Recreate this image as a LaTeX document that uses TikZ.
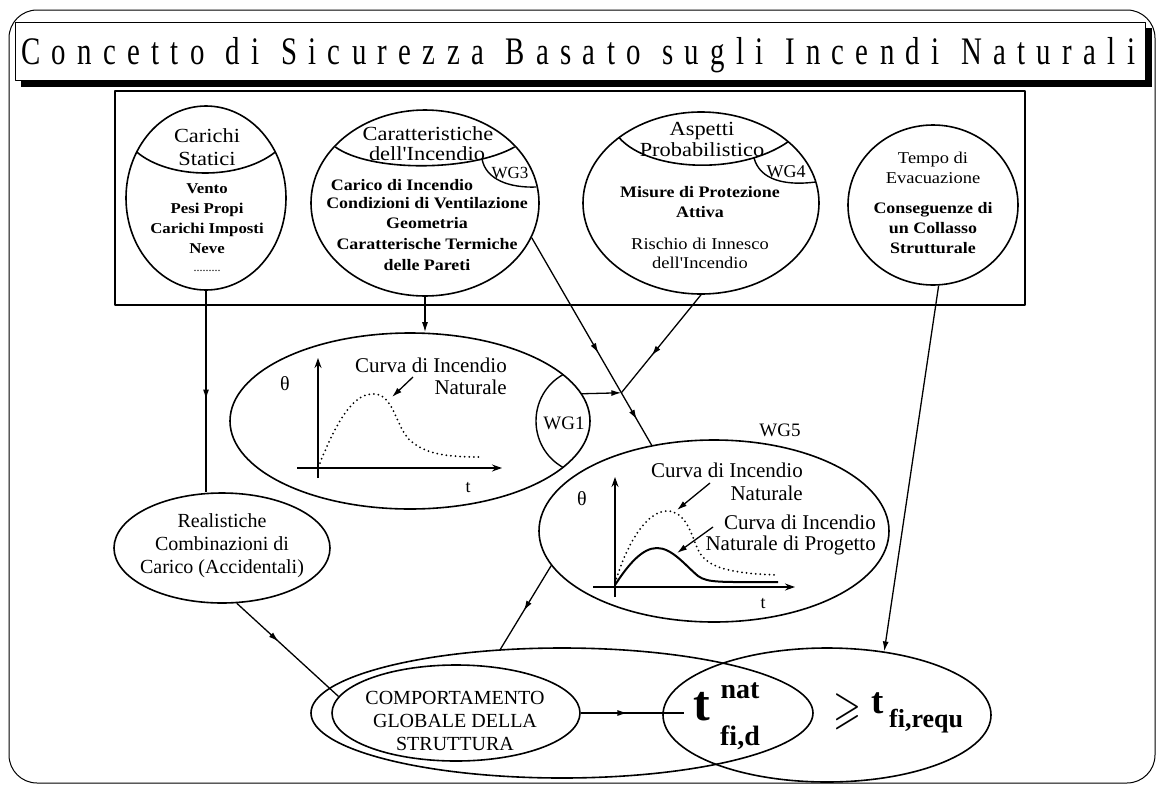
\documentclass[tikz,border=0pt]{standalone}
\usepackage{fontspec}
\usepackage{amssymb}
\usepackage{graphicx}
\setmainfont{Liberation Serif}
\newfontfamily\wideserif[FakeStretch=1.12]{Liberation Serif}
\newfontfamily\titleserif[FakeStretch=0.74]{Liberation Serif}
\usetikzlibrary{shapes.geometric,arrows.meta,decorations.markings,calc}

% letter and word gaps of the spaced-out heading
\newcommand\tlg{\hskip 0pt plus 1fil\relax}
\newcommand\twg{\hskip 10pt plus 1fil\relax}

\tikzset{
  ell/.style={draw, ellipse, inner sep=0pt, line width=1.6pt},
  sep/.style={line width=1.6pt},
  conn/.style={line width=1.3pt},
  marrow/.style={postaction={decorate}, decoration={markings, mark=at position #1 with {\arrow{>}}}},
  axis/.style={line width=1.5pt, -{Stealth[length=10pt,width=7pt]}},
  dotc/.style={line width=2pt, line cap=round, dash pattern=on 0pt off 4.6pt},
  solc/.style={line width=2pt},
  hd/.style={anchor=base, inner sep=0pt, font=\wideserif\fontsize{20}{22}\selectfont},
  bd/.style={anchor=base, inner sep=0pt, font=\wideserif\bfseries\fontsize{16}{18}\selectfont},
  bds/.style={anchor=base, inner sep=0pt, font=\wideserif\bfseries\fontsize{15}{17}\selectfont},
  rg/.style={anchor=base, inner sep=0pt, font=\wideserif\fontsize{16.5}{18}\selectfont},
  lbl/.style={anchor=base, inner sep=0pt, font=\fontsize{20}{22}\selectfont},
  glbl/.style={anchor=base east, inner sep=0pt, font=\fontsize{21}{23}\selectfont},
  wg/.style={anchor=base, inner sep=0pt, font=\fontsize{18}{20}\selectfont},
}

\begin{document}
\begin{tikzpicture}[x=1pt, y=-1pt, >={Latex[length=10pt,width=6pt]}, line join=round]
\useasboundingbox (0,0) rectangle (1160,785);

% page frame
\draw[line width=1pt, rounded corners=28pt] (9,10) rectangle (1155,783);

% heading with its shadow
\fill[black] (21,28) rectangle (1152,87);
\draw[line width=1pt, fill=white] (15,22) rectangle (1145,80);
\node[anchor=base, inner sep=0pt, font=\titleserif\fontsize{39}{42}\selectfont] (title) at (578,64)
  {\hbox to 1114pt{C\tlg o\tlg n\tlg c\tlg e\tlg t\tlg t\tlg o\twg d\tlg i\twg S\tlg i\tlg c\tlg u\tlg r\tlg e\tlg z\tlg z\tlg a\twg B\tlg a\tlg s\tlg a\tlg t\tlg o\twg s\tlg u\tlg g\tlg l\tlg i\twg I\tlg n\tlg c\tlg e\tlg n\tlg d\tlg i\twg N\tlg a\tlg t\tlg u\tlg r\tlg a\tlg l\tlg i}};

% box of the input parameters
\draw[line width=1.3pt] (115,91) rectangle (1025,305);

% ellipses
\node[ell, minimum width=160pt, minimum height=184pt] (cs) at (206,198) {};
\node[ell, minimum width=228pt, minimum height=186pt] (ci) at (425,203) {};
\node[ell, minimum width=236pt, minimum height=182pt] (ap) at (701,203) {};
\node[ell, minimum width=170pt, minimum height=160pt] (te) at (933,205) {};
\node[ell, minimum width=360pt, minimum height=176pt] (cn) at (410,421) {};
\node[ell, minimum width=350pt, minimum height=182pt] (pr) at (714,531) {};
\node[ell, minimum width=216pt, minimum height=110pt] (re) at (222,548) {};
\node[ell, minimum width=502pt, minimum height=130pt] (og) at (562,713) {};
\node[ell, minimum width=248pt, minimum height=96pt] (cg) at (456,713) {};
\node[ell, minimum width=328pt, minimum height=134pt] (tr) at (827,715) {};

% header separators and working-group corners
\draw[sep] (136.7,152) .. controls (170,180) and (240,180) .. (275.3,152);
\draw[sep] (335.4,147) .. controls (370,172) and (470,172) .. (514.6,147);
\draw[line width=1.4pt] (482,159) .. controls (486,180) and (510,188) .. (536.3,187);
\draw[sep] (619.4,138) .. controls (650,172) and (740,175) .. (787.8,142);
\draw[line width=1.4pt] (754,158) .. controls (760,180) and (785,186) .. (815.8,182);
\draw[line width=1.4pt] (563,374.6) .. controls (527,395) and (527,447) .. (563,467.4);

% Carichi Statici
\node[hd] (cs-h1) at (207,142) {Carichi};
\node[hd] (cs-h2) at (207,165) {Statici};
\node[bds] (cs-b1) at (207,193) {Vento};
\node[bds] (cs-b2) at (207,213) {Pesi Propi};
\node[bds] (cs-b3) at (207,233) {Carichi Imposti};
\node[bds] (cs-b4) at (207,253) {Neve};
\node[anchor=base, inner sep=0pt, font=\fontsize{12}{12}\selectfont] (cs-b5) at (207,271) {.........};

% Caratteristiche dell'Incendio
\node[hd] (ci-h1) at (428,140) {Caratteristiche};
\node[hd] (ci-h2) at (427,160) {dell'Incendio};
\node[anchor=base, inner sep=0pt, font=\fontsize{17}{19}\selectfont] (wg3) at (510,178) {WG3};
\node[bd] (ci-b1) at (402,190) {Carico di Incendio};
\node[bd] (ci-b2) at (427,208) {Condizioni di Ventilazione};
\node[bd] (ci-b3) at (427,228) {Geometria};
\node[bd] (ci-b4) at (427,249) {Caratterische Termiche};
\node[bd] (ci-b5) at (427,270) {delle Pareti};

% Aspetti Probabilistico
\node[hd] (ap-h1) at (702,135) {Aspetti};
\node[hd] (ap-h2) at (702,156) {Probabilistico};
\node[wg] (wg4) at (786,177) {WG4};
\node[bd] (ap-b1) at (700,197) {Misure di Protezione};
\node[bd] (ap-b2) at (700,217) {Attiva};
\node[rg] (ap-b3) at (700,249) {Rischio di Innesco};
\node[rg] (ap-b4) at (700,268) {dell'Incendio};

% Tempo di Evacuazione
\node[rg] (te-b1) at (933,163) {Tempo di};
\node[rg] (te-b2) at (933,183) {Evacuazione};
\node[bd] (te-b3) at (933,213) {Conseguenze di};
\node[bd] (te-b4) at (933,233) {un Collasso};
\node[bd] (te-b5) at (933,253) {Strutturale};

% natural fire curve
\draw[axis] (318,478) -- (318,358);
\draw[axis] (297,468) -- (502,468);
\node[lbl] (cn-th) at (285,390) {θ};
\node[anchor=base, inner sep=0pt, font=\fontsize{18}{20}\selectfont] (cn-t) at (468,492) {t};
\draw[dotc] (320,463) .. controls (338,418) and (355,392) .. (375,394)
  .. controls (395,396) and (396,430) .. (412,442)
  .. controls (428,455) and (450,457) .. (481,457);
\node[glbl] (cn-l1) at (507,372) {Curva di Incendio};
\node[glbl] (cn-l2) at (507,394) {Naturale};
\coordinate (cn-ps) at (413,377);
\coordinate (cn-pe) at (392,397);
\draw[conn, ->] (cn-ps) -- (cn-pe);
\node[anchor=base, inner sep=0pt, font=\fontsize{19}{21}\selectfont] (wg1) at (564,429) {WG1};

% design fire curve
\node[anchor=base, inner sep=0pt, font=\fontsize{19}{21}\selectfont] (wg5) at (780,436) {WG5};
\draw[axis] (615,597) -- (615,477);
\draw[axis] (593,587) -- (795,587);
\node[lbl] (pr-th) at (582,505) {θ};
\node[anchor=base, inner sep=0pt, font=\fontsize{18}{20}\selectfont] (pr-t) at (763,608) {t};
\draw[dotc] (615,583) .. controls (628,540) and (648,511) .. (667,511)
  .. controls (684,511) and (690,530) .. (696,545)
  .. controls (703,563) and (715,573) .. (778,575);
\draw[solc] (615,585) .. controls (628,565) and (642,548) .. (657,548)
  .. controls (672,548) and (685,565) .. (698,576)
  .. controls (708,583) and (720,582) .. (778,582);
\node[glbl] (pr-l1) at (803,477) {Curva di Incendio};
\node[glbl] (pr-l2) at (803,500) {Naturale};
\node[glbl] (pr-l3) at (876,529) {Curva di Incendio};
\node[glbl] (pr-l4) at (876,550) {Naturale di Progetto};
\coordinate (pr-ps1) at (710,483);
\coordinate (pr-pe1) at (677,510);
\coordinate (pr-ps2) at (713,527);
\coordinate (pr-pe2) at (677,553);
\draw[conn, ->] (pr-ps1) -- (pr-pe1);
\draw[conn, ->] (pr-ps2) -- (pr-pe2);

% load combinations
\node[lbl] (re-1) at (222,527) {Realistiche};
\node[lbl] (re-2) at (222,550) {Combinazioni di};
\node[lbl] (re-3) at (222,573) {Carico (Accidentali)};

% global behaviour and verification
\node[lbl] (cg-1) at (455,704) {COMPORTAMENTO};
\node[lbl] (cg-2) at (455,727) {GLOBALE DELLA};
\node[lbl] (cg-3) at (455,750) {STRUTTURA};
\node[anchor=base, inner xsep=9pt, inner ysep=0pt, font=\bfseries\fontsize{50}{50}\selectfont] (tnat) at (702,720) {t};
\node[anchor=base, inner sep=0pt, font=\bfseries\fontsize{28}{30}\selectfont] (tsup) at (740,698) {nat};
\node[anchor=base, inner sep=0pt, font=\bfseries\fontsize{28}{30}\selectfont] (tsub) at (740,745) {fi,d};
\node[inner sep=0pt] (geq) at (847,712) {\scalebox{1}[1.3]{\fontsize{36}{36}\selectfont$\geqslant$}};
\node[anchor=base, inner sep=0pt, font=\bfseries\fontsize{37}{37}\selectfont] (treq) at (878,713) {t};
\node[anchor=base west, inner sep=0pt, font=\bfseries\fontsize{26}{26}\selectfont] (treqs) at (889,727) {fi,requ};

% connectors
\coordinate (jn) at ($(ci.-18)!0.7475!(pr.126)$);
\draw[conn, marrow=0.54] (cs.south) -- (cs.south |- re.north);
\draw[conn, ->] (ci.south) -- (ci.south |- cn.north);
\draw[conn, marrow=0.62] (ap.south) -- (jn);
\draw[conn, ->] (cn.9) -- (jn);
\draw[conn, postaction={decorate}, decoration={markings,
    mark=at position 0.556 with {\arrow{>}},
    mark=at position 0.877 with {\arrow{>}}}] (ci.-18) -- (pr.126);
\draw[conn, marrow=0.54] (pr.-168) -- (og.134);
\draw[conn, marrow=0.41] (re.-75) -- (cg.172);
\draw[conn, marrow=0.45] (cg.east) -- (cg.east -| tnat.west);
\draw[conn, ->] (te.-86) -- (tr.48);
\end{tikzpicture}
\end{document}
